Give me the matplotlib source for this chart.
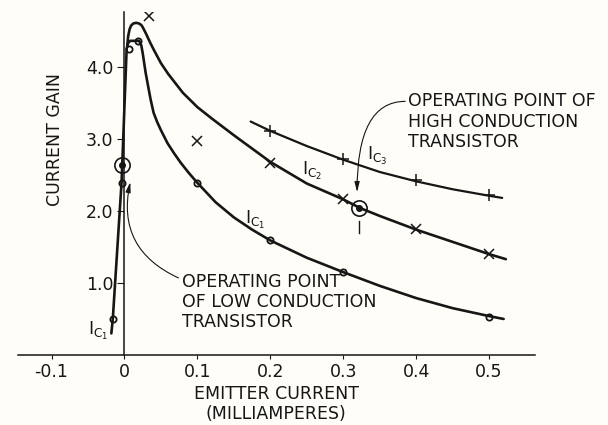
import matplotlib
matplotlib.use("Agg")
import matplotlib.pyplot as plt

# traced curves (emitter current mA, current gain)
ic1_x = [-0.018, -0.016, -0.004, 0.003, 0.005, 0.008, 0.02, 0.023, 0.025, 0.029, 0.033, 0.036,
         0.040, 0.045, 0.05, 0.059, 0.068, 0.077, 0.088, 0.099, 0.112, 0.125, 0.15, 0.175, 0.2,
         0.25, 0.3, 0.35, 0.4, 0.45, 0.5, 0.52]
ic1_y = [0.30, 0.50, 2.39, 4.25, 4.33, 4.36, 4.36, 4.30, 4.19, 3.92, 3.70, 3.54,
         3.36, 3.23, 3.12, 2.94, 2.80, 2.67, 2.53, 2.40, 2.26, 2.12, 1.91, 1.74, 1.59,
         1.35, 1.15, 0.96, 0.79, 0.65, 0.54, 0.50]
ic2_x = [0.004, 0.005, 0.007, 0.009, 0.012, 0.016, 0.02, 0.023, 0.025, 0.027, 0.03, 0.035,
         0.04, 0.05, 0.06, 0.07, 0.08, 0.1, 0.12, 0.15, 0.2, 0.25, 0.3, 0.323, 0.35, 0.4,
         0.45, 0.5, 0.523]
ic2_y = [4.30, 4.42, 4.52, 4.57, 4.60, 4.61, 4.60, 4.58, 4.55, 4.51, 4.45, 4.34,
         4.24, 4.05, 3.90, 3.77, 3.64, 3.44, 3.28, 3.05, 2.68, 2.38, 2.16, 2.04, 1.93, 1.74,
         1.57, 1.40, 1.33]
ic3_x = [0.173, 0.2, 0.25, 0.3, 0.35, 0.4, 0.45, 0.5, 0.518]
ic3_y = [3.24, 3.11, 2.90, 2.71, 2.54, 2.41, 2.30, 2.21, 2.18]

# measured points
pts1_x = [-0.016, -0.004, 0.006, 0.019, 0.1, 0.2, 0.3, 0.5]
pts1_y = [0.50, 2.39, 4.25, 4.36, 2.39, 1.60, 1.15, 0.53]
pts2_x = [0.033, 0.1, 0.2, 0.3, 0.4, 0.5]
pts2_y = [4.70, 2.97, 2.67, 2.16, 1.75, 1.40]
pts3_x = [0.2, 0.3, 0.4, 0.5]
pts3_y = [3.11, 2.72, 2.43, 2.22]

# operating points (low, high)
op_x = [-0.003, 0.322]
op_y = [2.64, 2.04]

xticks = [-0.1, 0, 0.1, 0.2, 0.3, 0.4, 0.5]
xtick_labels = ["-0.1", "0", "0.1", "0.2", "0.3", "0.4", "0.5"]
yticks = [1, 2, 3, 4]
ytick_labels = ["1.0", "2.0", "3.0", "4.0"]

ink = "#161616"
bg = "#fefdf8"
fs = 12.5

fig = plt.figure(figsize=(6.08, 4.25), dpi=100, facecolor=bg)
ax = fig.add_axes([18/608, 70/425, 517/608, 343/425])
ax.set_facecolor(bg)
ax.set_xlim(-0.146, 0.563)
ax.set_ylim(0, 4.76)

ax.plot(ic1_x, ic1_y, color=ink, lw=1.9, solid_capstyle="round", solid_joinstyle="round")
ax.plot(ic2_x, ic2_y, color=ink, lw=1.9, solid_capstyle="round", solid_joinstyle="round")
ax.plot(ic3_x, ic3_y, color=ink, lw=1.6, solid_capstyle="round", solid_joinstyle="round")

ax.plot(pts1_x, pts1_y, "o", ms=4.5, mfc="none", mec=ink, mew=1.3)
ax.plot(pts2_x, pts2_y, "x", ms=7, mec=ink, mew=1.1)
ax.plot(pts3_x, pts3_y, "+", ms=9, mec=ink, mew=1.1)

ax.plot(op_x, op_y, "o", ms=11, mfc="none", mec=ink, mew=1.2)
ax.plot(op_x, op_y, "o", ms=4, mfc=ink, mec=ink)

# short dashed marker below the high operating point
ax.plot([0.322, 0.322], [1.70, 1.86], color=ink, lw=1.0)

# curve labels
ax.text(0.165, 1.88, r"$\mathregular{I_{C_1}}$", fontsize=fs, color=ink, va="center")
ax.text(0.244, 2.55, r"$\mathregular{I_{C_2}}$", fontsize=fs, color=ink, va="center")
ax.text(0.333, 2.76, r"$\mathregular{I_{C_3}}$", fontsize=fs, color=ink, va="center")
ax.text(-0.05, 0.33, r"$\mathregular{I_{C_1}}$", fontsize=fs, color=ink, va="center")

# annotations
ax.annotate("", xy=(0.008, 2.40), xytext=(0.074, 1.07),
            arrowprops=dict(arrowstyle="-|>,head_length=0.6,head_width=0.15", color=ink,
                            lw=0.8, connectionstyle="arc3,rad=-0.4", shrinkA=0, shrinkB=0))
ax.text(0.0795, 0.74, "OPERATING POINT\nOF LOW CONDUCTION\nTRANSISTOR", fontsize=fs,
        color=ink, ha="left", va="center", linespacing=1.15)

ax.annotate("", xy=(0.319, 2.26), xytext=(0.385, 3.52),
            arrowprops=dict(arrowstyle="-|>,head_length=0.6,head_width=0.15", color=ink,
                            lw=0.8, connectionstyle="angle3,angleA=180,angleB=90",
                            shrinkA=0, shrinkB=0))
ax.text(0.389, 3.24, "OPERATING POINT OF\nHIGH CONDUCTION\nTRANSISTOR", fontsize=fs,
        color=ink, ha="left", va="center", linespacing=1.15)

# axes styling
for s in ["top", "right"]:
    ax.spines[s].set_visible(False)
ax.spines["left"].set_position(("data", 0))
ax.spines["left"].set_color(ink)
ax.spines["bottom"].set_color(ink)
ax.spines["left"].set_linewidth(1.1)
ax.spines["bottom"].set_linewidth(1.1)

ax.set_xticks(xticks)
ax.set_xticklabels(xtick_labels)
ax.set_yticks(yticks)
ax.set_yticklabels(ytick_labels)
ax.tick_params(axis="x", direction="out", length=3, pad=3, labelsize=fs, colors=ink)
ax.tick_params(axis="y", direction="out", length=5, pad=3, labelsize=fs, colors=ink)

fig.text(276/608, 1 - 404/425, "EMITTER CURRENT\n(MILLIAMPERES)", ha="center", va="center",
         fontsize=fs, color=ink, linespacing=1.15)
fig.text(55/608, 1 - 140/425, "CURRENT GAIN", rotation=90, ha="center", va="center",
         fontsize=fs, color=ink)

fig.savefig("out.png", dpi=100, facecolor=bg)
